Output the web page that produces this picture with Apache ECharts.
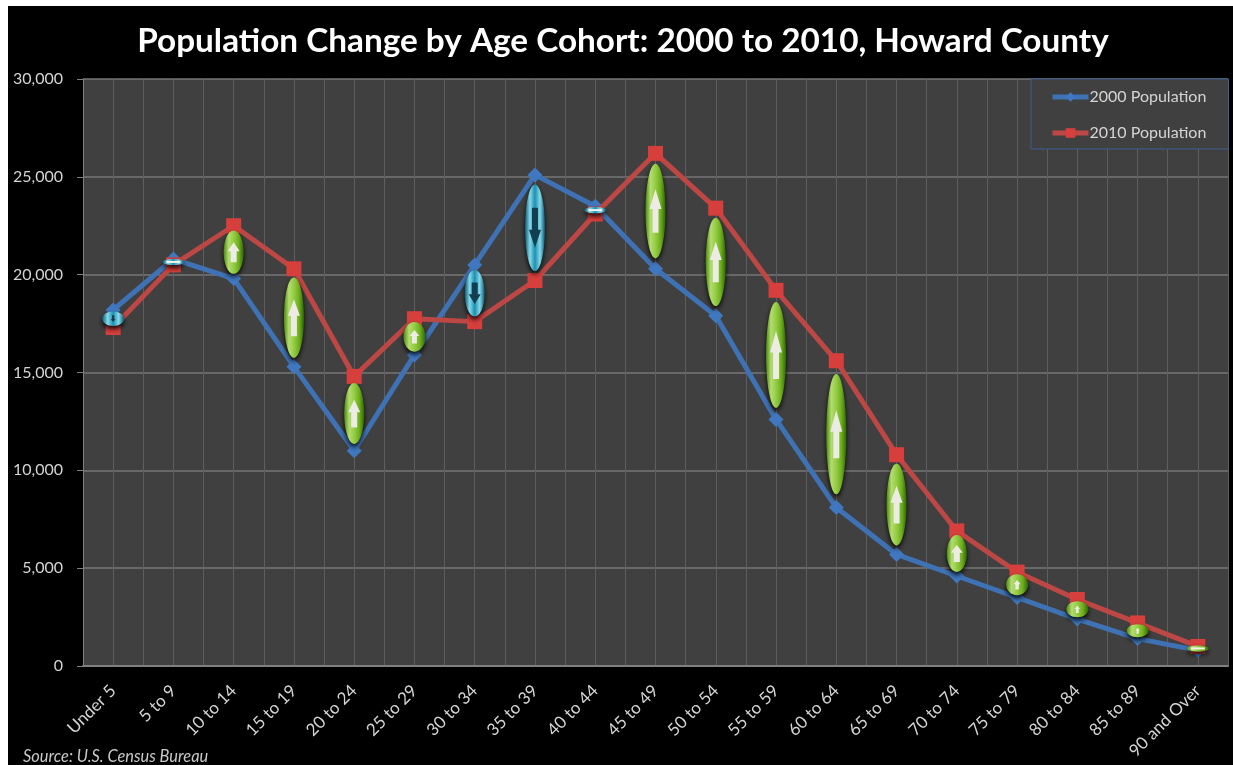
<!DOCTYPE html>
<html>
<head>
<meta charset="utf-8">
<style>
html, body { margin: 0; padding: 0; background: #fff; overflow: hidden; }
#main { position: absolute; left: 8px; top: 6px; width: 1225px; height: 759px; background: #000; }
</style>
<script src="https://cdn.jsdelivr.net/npm/echarts@6/dist/echarts.min.js"></script>
</head>
<body>
<div id="main"></div>
<script>
var categories = ['Under 5', '5 to 9', '10 to 14', '15 to 19', '20 to 24', '25 to 29', '30 to 34', '35 to 39', '40 to 44',
    '45 to 49', '50 to 54', '55 to 59', '60 to 64', '65 to 69', '70 to 74', '75 to 79', '80 to 84', '85 to 89', '90 and Over'];
var pop2000 = [18200, 20800, 19800, 15300, 11000, 15900, 20500, 25100, 23500, 20300, 17900, 12600, 8100, 5700, 4600, 3500, 2400, 1400, 800];
var pop2010 = [17300, 20500, 22500, 20300, 14800, 17750, 17600, 19700, 23100, 26200, 23400, 19200, 15600, 10800, 6900, 4800, 3400, 2200, 1000];

var changes = categories.map(function (c, i) {
    return [i, pop2000[i], pop2010[i]];
});

var fontName = 'Lato, "Open Sans", sans-serif';
var myChart = echarts.init(document.getElementById('main'));

function ovalGradient(up) {
    var stops = up
        ? ['#4a8a0c', '#b4dc70', '#94cc44', '#6fae1e', '#2f6a04']
        : ['#0a5a70', '#86d8ea', '#1c90b0', '#86d8ea', '#0a5a70'];
    return new echarts.graphic.LinearGradient(0, 0, 1, 0, stops.map(function (c, k) {
        return {offset: k / 4, color: c};
    }));
}

// oval + arrow sitting between the two lines
function renderChange(params, api) {
    var a = api.coord([api.value(0), api.value(1)]);
    var b = api.coord([api.value(0), api.value(2)]);
    var up = api.value(2) >= api.value(1);
    var cx = a[0];
    var cy = (a[1] + b[1]) / 2;
    var h = Math.max(Math.abs(a[1] - b[1]) * 0.82, 6);
    var w = h < 30 ? 22 : 20;
    var dir = up ? -1 : 1;
    var al = Math.min(h * 0.46, 48);
    var hw = Math.min(al * 0.36, 6);
    var headLen = al * 0.45;
    var sw = hw * 0.5;
    var tip = cy + dir * al / 2;
    var base = cy - dir * al / 2;
    var neck = tip - dir * headLen;
    var children = [{
        type: 'ellipse',
        shape: {cx: cx, cy: cy, rx: w / 2, ry: h / 2},
        style: {
            fill: ovalGradient(up),
            shadowBlur: 5,
            shadowColor: 'rgba(0,0,0,0.9)',
            shadowOffsetY: 3
        }
    }];
    if (h > 8) {
        children.push({
            type: 'polygon',
            shape: {points: [[cx, tip], [cx + hw, neck], [cx + sw, neck], [cx + sw, base], [cx - sw, base], [cx - sw, neck], [cx - hw, neck]]},
            style: {fill: up ? '#ecece4' : '#123f50'}
        });
    } else {
        children.push({
            type: 'rect',
            shape: {x: cx - 7, y: cy - 1, width: 14, height: 2},
            style: {fill: '#f2f2ea'}
        });
    }
    return {type: 'group', children: children};
}

option = {
    animation: false,
    backgroundColor: '#000',
    title: {
        text: 'Population Change by Age Cohort: 2000 to 2010, Howard County',
        left: 610,
        textAlign: 'center',
        top: 14,
        textStyle: {color: '#fff', fontFamily: fontName, fontWeight: 'bold', fontSize: 33.3}
    },
    graphic: [{
        type: 'text',
        left: 15,
        top: 743,
        style: {text: 'Source: U.S. Census Bureau', fill: '#c8c8c8', font: 'italic 16.4px ' + fontName}
    }],
    legend: {
        data: ['2000 Population', '2010 Population'],
        orient: 'vertical',
        left: 1023,
        top: 73,
        padding: [10, 22, 8, 19],
        itemGap: 20,
        itemWidth: 36,
        itemHeight: 12,
        backgroundColor: '#404040',
        borderColor: '#3a5f8e',
        borderWidth: 1,
        lineStyle: {width: 5},
        textStyle: {color: '#d4d4d4', fontFamily: fontName, fontSize: 16, padding: [0, 0, 0, -4]}
    },
    grid: {left: 75, top: 73, right: 5, bottom: 99, backgroundColor: '#404040', show: true, borderWidth: 0},
    xAxis: [{
        type: 'category',
        data: categories,
        axisLine: {lineStyle: {color: '#808080', width: 2}},
        axisTick: {alignWithLabel: true, length: 6, interval: 0, lineStyle: {color: '#808080'}},
        axisLabel: {interval: 0, rotate: 45, color: '#d4d4d4', fontFamily: fontName, fontSize: 17, margin: 22},
        splitLine: {show: true, interval: 0, lineStyle: {color: '#5e5e5e', width: 1}}
    }, {
        // second copy only for the extra gridlines at category centres
        type: 'category',
        position: 'bottom',
        data: categories,
        axisLine: {show: false},
        axisTick: {show: false},
        axisLabel: {show: false},
        splitLine: {show: true, interval: 0, alignWithLabel: true, lineStyle: {color: '#5e5e5e', width: 1}}
    }],
    yAxis: {
        type: 'value',
        min: 0,
        max: 30000,
        interval: 5000,
        axisLine: {show: true, lineStyle: {color: '#808080'}},
        axisTick: {show: true, length: 6, lineStyle: {color: '#808080'}},
        axisLabel: {color: '#d4d4d4', fontFamily: fontName, fontSize: 16, margin: 20},
        splitLine: {lineStyle: {color: '#767676', width: 1.5}}
    },
    series: [{
        name: '2000 Population',
        type: 'line',
        data: pop2000,
        symbol: 'diamond',
        symbolSize: 15,
        itemStyle: {color: '#3f78c0'},
        lineStyle: {color: '#3f72b4', width: 5},
        z: 3
    }, {
        name: '2010 Population',
        type: 'line',
        data: pop2010,
        symbol: 'rect',
        symbolSize: 15,
        itemStyle: {color: '#d63f3c'},
        lineStyle: {color: '#bd4744', width: 5},
        z: 4
    }, {
        type: 'custom',
        data: changes,
        renderItem: renderChange,
        encode: {x: 0, y: [1, 2]},
        z: 5
    }]
};

if (option && typeof option === "object") {
    myChart.setOption(option, true);
}
</script>
</body>
</html>
